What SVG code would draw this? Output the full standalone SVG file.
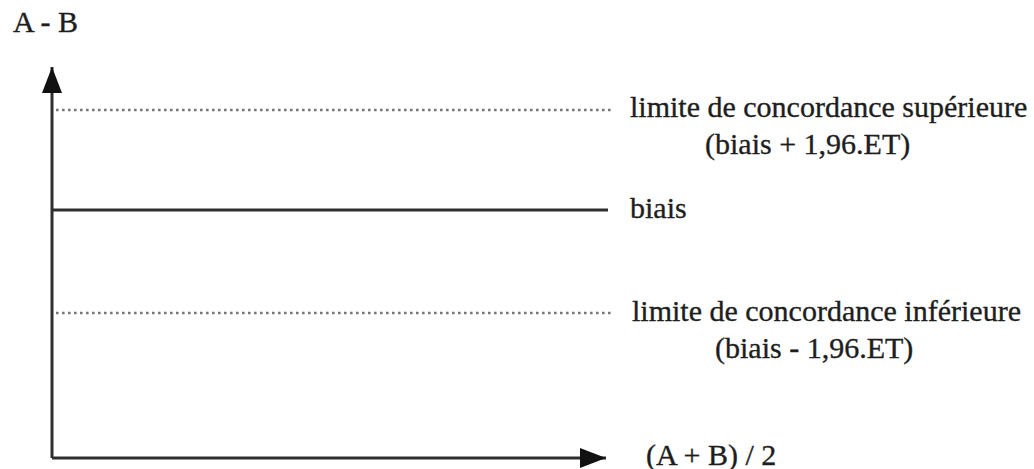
<svg xmlns="http://www.w3.org/2000/svg" width="1034" height="469" viewBox="0 0 1034 469">
<style>
text{font-family:"Liberation Serif","Times New Roman",serif;font-size:30px;fill:#1e1e1e;stroke:#1e1e1e;stroke-width:0.35}
.axis{stroke:#2e2e2e;stroke-width:3;fill:none}
.dot{stroke:#777;stroke-width:2.6;stroke-dasharray:2.6 3.4;fill:none}
.solid{stroke:#2e2e2e;stroke-width:3;fill:none}
</style>
<defs>
<marker id="ah" markerWidth="28" markerHeight="22" refX="26" refY="11" orient="auto" markerUnits="userSpaceOnUse">
<path d="M0,1 L26,11 L0,21 Z" fill="#111"/>
</marker>
</defs>
<rect width="1034" height="469" fill="#fff"/>
<g id="connectors">
<line class="axis" x1="52" y1="458" x2="52" y2="67" marker-end="url(#ah)"/>
<line class="axis" x1="52" y1="458" x2="606" y2="458" marker-end="url(#ah)"/>
<line class="dot" x1="56" y1="110" x2="612" y2="110"/>
<line class="solid" x1="52" y1="210" x2="608" y2="210"/>
<line class="dot" x1="56" y1="313" x2="612" y2="313"/>
</g>
<g id="y-label"><text x="13" y="32">A - B</text></g>
<g id="upper"><text x="630" y="117">limite de concordance supérieure</text><text x="705" y="154">(biais + 1,96.ET)</text></g>
<g id="bias"><text x="630" y="218">biais</text></g>
<g id="lower"><text x="632" y="321">limite de concordance inférieure</text><text x="715" y="358">(biais - 1,96.ET)</text></g>
<g id="x-label"><text x="646" y="465">(A + B) / 2</text></g>
</svg>
